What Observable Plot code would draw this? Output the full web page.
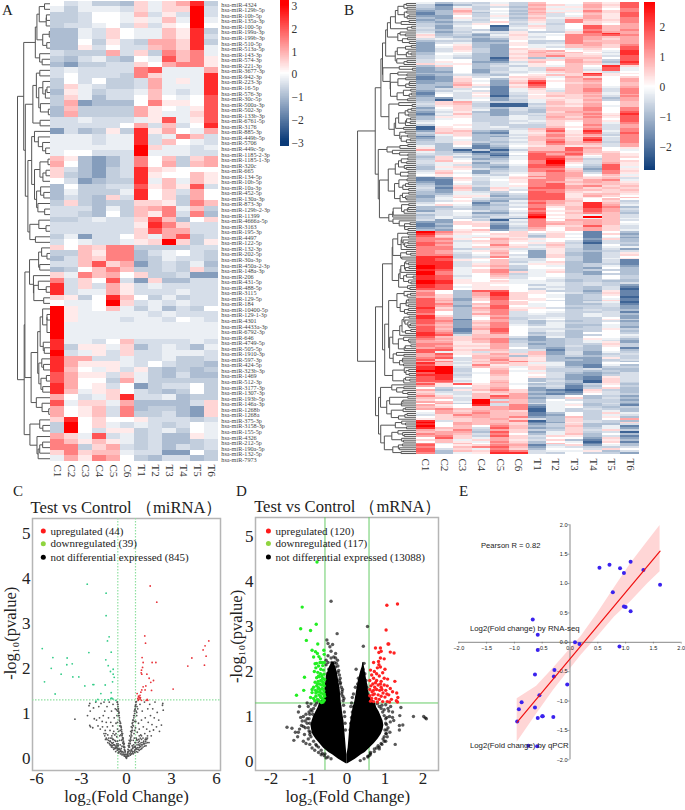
<!DOCTYPE html>
<html><head><meta charset="utf-8">
<style>html,body{margin:0;padding:0;background:#fff}#root{position:relative;width:685px;height:810px;overflow:hidden}
.tag{position:absolute;font:15px "Liberation Serif",serif;color:#222;line-height:15px}</style>
<script src="https://cdn.jsdelivr.net/npm/d3@7"></script>
<script src="https://cdn.jsdelivr.net/npm/@observablehq/plot@0.6"></script>
</head><body><div id="root"></div>
<script>
const cols=["C1","C2","C3","C4","C5","C6","T1","T2","T3","T4","T5","T6"];
const levelCodes="abcdefghijklmnop";
const levelsA=[-2.5,-2,-1.5,-1,-.75,-.5,-.25,0,.25,.5,.75,1,1.5,2,2.5,3];
const levelsB=[-2.2,-1.75,-1.3,-.9,-.65,-.45,-.2,0,.25,.45,.7,.95,1.35,1.8,2.3,2.8];
const miRNAs=["4324","129b-5p","10b-5p","135a-3p","100-5p","199a-3p","199b-3p","510-5p","513a-5p","143-3p","574-3p","221-3p","3677-3p","942-3p","223-3p","16-5p","576-3p","30c-5p","500a-3p","502-3p","133b-3p","6761-5p","3176","885-3p","449b-5p","5706","449c-5p","1185-2-3p","1185-1-3p","320c","665","134-5p","10b-5p","10a-3p","452-5p","130a-3p","873-3p","129b-2-3p","11399","4666a-5p","3163","195-3p","4497","122-5p","132-3p","202-5p","30a-3p","450a-2-3p","148a-3p","206","431-5p","488-5p","3115","129-5p","184","10400-5p","129-1-3p","4301","4433a-3p","6792-3p","646","4749-5p","505-5p","1910-3p","597-3p","424-5p","323b-3p","1469","512-3p","3177-3p","1307-3p","193b-5p","146a-3p","1268b","1268a","375-3p","3158-3p","155-5p","4326","212-5p","190a-5p","132-5p","7973"];
const heatA=`hfgeedjgjloe gegggfjgjjpf eefhhgkfifpf eefhhgigkgpg effghfjfihph ddgfjhggkioe ddgfjhggkiof ddheifelljoe ddifhffkljog feeelfjemkmg edfgedhgnkmi dceeffjhlmmi fgffffmngggl fhfffemjgggo ehfheeflgigo ejgfeeflgggo digeffgkgfgo ejgdffhkhghn elcdddhmiihn dkeeeelihgin dleeeeliggjn ffgfffgingin fffffhlfkfho cfdeieoilhgl gggfggofgmkf gggfggofkhgf ggggggpjggfg ghhfffpgggff kidcdfmhkejl lhdcdfmhlekl jfdcefojihhh jedcefoihhki hfcdeeogkgki dheeffnikinf dgeeegohjflh dfedjfohjelh ejedeejjiemk fffdgeklmgke ffedhekimfmd eefgffjnkdhj ffffffiomjff ffffffjnllff egcffhjglnef fhgffgijpjei jhkjmmeeeeff eekimmdfghfe dfkjmmdegffe ffknjlcefegd dehkmkeefeje jgmklhjeefcc mfjhnfcjddff ofjflifgffff ofgglifffgff jiehokhegeff hgghpjfgfgff pighkgegdfeh pigggggfgfff pigggfggfhgf pggggggggggg pggggggggggg pggggggggggg oggfhkffffgf oeiigjdfgfdg pfgifjffgggf ollffgffgeef oliiigfhfeed okhgifiedede nliifjgedfdd nlhhelgeeeee olhifhceffhe okgijhfedehe lhfgjoffgdee ngjjglddddfj lhikfmdeedcj lhikfmeefdcj johjhhifffef ephjgfgfefhg ephfiiefgehg ljgnfgefddig mkikigefddef mmejlfefdfef jmjkkgffcche glimlhedffde`.trim().split(/\s+/);
const heatB=`gdfegekhhkin ebdfieljgljn ecgefdkgilin dcjeheligkhm cdlfgdkgimjm bdkdheljgljn bdjegdkfhkin ccheiejfglin dcifgdkgjlim cdgehejfmkjm dcefjfifmjim edfihegehjhl ecghafjfhnkl fcfhbgifhnkl edfebfhfgmkm fcegfieejnll gdfdeighjmol jdecgjggmmnm ieddfifhmlkl fgfcdighmljl deeccheemkkl cfgddiefmlkl chidciggkljm cgjdchgfkkjn cfjecjihgjhn cfieciklhigo dgheciljkhfo dhgdcjkkjigo egfdcikmjjfn egedajdfkkhn fhhdbijjljen fihccfkhlkdo jgidegihkjfn djhdfeigkhoj cdhdegfkkgng cdhcegflkfng cchcffgjkifh ddgdeghgjoii cdfedhikjnih bcifgjjgljhj bcjhdikhkmhl ccjgcjniklhl cdkhckohjkhk ddlicinhklhk dcjfbjmhklgl dffhbgjgkmfm cegfbgifkmfm bgfibfijklgm bhfhbfhjjkgl chfiaeikjlfm dcfgcfiijkdl daghcegjilel ejlfeegkikhk fjkeaaekjlhk eijeaafjilgk chjfdfekkmhm dgjgcfdkkmhm cfidcedjllhn bgkecefkkmio cfiecgekkljn diieegfljmin dgheegfkklhn fhheefgjilin ghhfegfjhlgm ehifeeejhmfl aihfgeekilfl ajifffkmhmfm cjkdcgjniogm ekjcbgilinfn dgjddfjmjlem bfidcgkmikgm cfhdefkljnfm dfgdegkmjofm efiedfjnkmem edicegjmkkfl gdhbdhikijfl idebcgkknlhi ldaeaekknkhg gecacgmmmkjh fefcbhnlnjki efgdafnmmhki djedcgnnkgkj ejgcdgnolekh fkheehmpkfkj fgicfhmpifli egfddgnoheni dijdcfnngdng dgifdfmmjcni fjhcefmnkdmj gkgcfgkmlfmi hihfehkmlhkg fihggimmliji bcjfgjkmkjkf bbifhimmjlmg cbhegimlklki dbgeghmnjkkj ecjfgimnlmjk fbkdjgnnljkj ecjdifmmkkjk dcgfehnmjijj ddggdfnnikki cfiicenniljh cgjgeenniihk dghfddnnjhkh dfidcgmlkhje fhhbefnljokf gjgcdgmkjolg ddfdefmikomd deedehnhknlf cfhfdgmijnle ffgccfnhkmkd dfgeegoijgkf egfdffphjpkf egefdcnijgkg fcheagmhllkf ccjidfmkklkh bdjjcgmlklkg bchjbfmijnjf cdhhbelhkljf dcikcfkhkljg pmjihjhihbhd olihjjfjgbjc njggijdjhbhd mkgjjiejgbgc mmihljihhcjd mlfjkighfbfd nmgikhijeafe nlghmifkfchd mmgjkjgjfcgg mmefjffiecfc mlgikgciedef mlfhlhcidcfi mmegkfcjdcfj ooefmgcjecfh onfihffhecgi onihkffhecfb oofgkegjdcfb oofikgiideeb pofjlehgdegc poghkehhdchd ongjmdgideed pmgjmjgjdchd pmghlegheced onfhkfgheehe onghjfhgeehe onihhghfdefd poihjggfdedd poiiigggefef onhihhegefec ongiihgfedfb nnhiihegedfa lhdnnhieecib mhdlojihfdjb mjdlojhgdeib ljdknjhgdeha nkcjnjihdegb nlcjmhifddjb nkdhmjhhdfga nmdkmjghddfb nlcjnhgheefc ojdlniifdeec nkdkmjhhefed nhdjmfhgeefb mhdlmfgfegfd ojdilfffegfc oldhmefgeehc nlbhlegheeie nmcjlfdfdefc nlckmfdgeehd mkcjmgegddgd nlckmhggdegc nkblnhffeeie nlbjnhfgdehd omcjmhdfdhhe onfkkhefdehg nkjkkfcgdhhf mljlmdcdeigd lkjkmecdegfc llikmeddegic mmiilfcdeeje mljjlfddfdie lmiilhdcedhb nnjkkffbedhd ngifjfkcfcge lnijljkcfcef lmhkkdjdedfe mnfkljidccie njfjmjiddcef lmgkkmjeccfd okfjljggcchh nkgmijigcbgd opfkjgjfdbee opehkhjeefdd ppehlggeeded npfglhifdcdf ooehkhhfccef nofhjhifcbif noghjhdecbjf nnfhkhdfdajf lmghlhgedaje ninikgdeceid lihjkhefbdhe hefjlhcebejd ldikmjcbajed jffikjdcbifd kgfkjlcbchfe mjgknldehdec kkfkmlcejdfd jhfpfkdhfeec lkgplkdgheed hlepfkfggdfc lihofmcgideb kjhklmbghede lmkklmagefed hljlkjageegd glkmkkbdhejg fjmlkkbchegf hjklkmcdkeid ijjkljfdjehl ofjkkmadjfed phlkkjbcifej ohlkljcejddf phkhmkdekdgb okkfnkcdjegc ljmeljeejfje klldnjcgjefa mlkfmhdgkdhd lmjenjfjidfb hnjgljehhcjc jkgjlifjdbid hkigmjdhgajb mgkhlkdkhbhd nhijmlbfjcgd mhkmnkcgfeef nfjgmjdhhfjh ndkjnmfggidf mdgioofeheec`.trim().split(/\s+/);
const ticksA=[-3,-2,-1,0,1,2,3];
const ticksB=[-2,-1,0,1,2];
const volcanoC={red:[1.58,3.83,2.02,3.47,1.22,2.72,1.27,2.56,5.49,2.61,5.24,2.5,5.11,2.41,5.31,2.27,5.2,2.07,4.36,2.23,4.09,2.05,1.04,2.24,1.11,2.13,1.71,2.13,1.96,2.13,1.07,2.02,1,1.96,.98,1.9,1.02,1.87,1.36,1.87,1.51,1.78,1.8,1.73,1.62,1.69,3.11,1.54,1.29,1.61,1.11,1.59,1.02,1.52,1.24,1.52,1.67,1.51,.71,1.44,.96,1.47,.84,1.36,.87,1.35,.93,1.35,.91,1.32,.78,1.29,.82,1.31,1.31,1.29,1.42,1.29,1,1.29,.8,1.38,.9,1.4,.75,1.33,1.38,1.31],
green:[-2.62,3.87,-1.36,3.67,-1.36,3.17,-1.16,2.7,-1.27,2.61,-1.02,2.36,-2.51,2.35,-5.62,2.44,-4.91,2.24,-3.96,2.23,-3.98,2.08,-3.62,2.1,-5.02,2,-4.36,1.87,-3.58,1.81,-3.18,1.81,-5.47,1.7,-4.76,1.43,-2.78,1.61,-2.24,1.64,-2.18,1.64,-1.38,2.19,-1.22,2.06,-1.07,1.93,-.89,1.98,-.89,1.87,-.82,1.8,-.93,1.7,-1.42,1.63,-1.02,1.46,-1.71,1.44,-1.91,1.31,-2.04,1.27,-1.44,1.3,-1.04,1.33,-.91,1.32,-.71,1.29,-.98,1.34,-1.2,1.3],
gray:[-3.44,.87,-2.5,1.17,-2.45,1.22,-2.42,1.05,-2.6,.95,-2.4,.7,-2.45,.73,-2.25,.68,-2.2,1.12,-2.15,.88,-2.05,1.25,-2.0,.85,-1.9,.72,-1.85,1.15,-1.8,.9,-1.75,.65,-1.7,1.22,-1.62,.82,-1.6,.7,-1.55,.95,-1.5,1.25,-1.45,1.05,-1.42,.62,-1.38,.55,-1.35,.8,-1.3,1.15,-1.28,.7,-1.25,.52,-1.2,.9,-1.18,.45,-1.15,1.25,-1.1,.62,-1.08,.38,-1.05,.8,-1,1.05,-.98,.5,-.95,.33,-.92,.72,-.9,1.2,-.88,.42,-.85,.6,-.82,.9,-.8,.3,-.78,.52,-.75,1.1,-.72,.38,-.7,.78,-.68,.25,-.65,.48,-.62,1.25,-.6,.65,-.58,1.2,-.56,.32,-.54,1.1,-.52,.95,-.5,.22,-.5,1.02,-.48,.85,-.46,.4,-.45,.72,-.42,.3,-.42,.62,-.4,.78,-.38,.18,-.38,.52,-.35,.68,-.33,.4,-.32,.6,-.3,.27,-.3,.5,-.28,.42,-.26,.55,-.25,.15,-.25,.34,-.22,.45,-.2,.25,-.2,.38,-.18,.12,-.18,.3,-.15,.33,-.14,.2,-.12,.08,-.12,.25,-.1,.05,-.08,.16,-.06,.04,-.04,.09,-.02,.02,0,0,.02,.03,.04,.08,.06,.05,.08,.13,.1,.07,.1,.2,.12,.28,.14,.15,.15,.33,.18,.1,.18,.4,.2,.25,.22,.17,.22,.5,.25,.33,.26,.12,.28,.6,.3,.4,.32,.2,.32,.7,.35,.5,.38,.78,.38,.28,.4,.62,.42,.15,.42,.85,.45,.4,.46,.72,.48,.95,.5,.25,.5,.55,.52,1.05,.55,.82,.56,.35,.58,1.15,.6,.68,.6,.2,.62,1.25,.65,.45,.68,.95,.7,.3,.72,.58,.75,1.1,.78,.2,.8,.78,.82,.42,.85,.65,.88,.28,.9,1.2,.95,.52,.98,.35,1,.85,1.02,.22,1.05,1.05,1.1,.45,1.12,.7,1.15,.32,1.2,1.25,1.22,.55,1.25,.9,1.28,.38,1.3,.28,1.35,.65,1.4,.45,1.42,1.1,1.45,.8,1.5,.35,1.55,.6,1.55,1.2,1.6,.95,1.65,.5,1.7,.75,1.75,1.1,1.8,.63,1.85,.9,1.9,1.25,2,.7,2.05,1.02,2.15,.85,2.2,.6,2.33,.74,2.4,1.18,2.45,1.07,2.42,1.22,-.22,.08,-.3,.12,-.4,.15,-.5,.13,-.62,.18,-.72,.15,-.85,.2,-1,.25,-1.1,.3,-1.25,.35,-1.4,.42,.25,.07,.35,.1,.45,.1,.55,.13,.65,.15,.75,.14,.85,.18,.95,.2,1.1,.25,1.2,.27,1.3,.34,1.4,.35,-.15,.05,.15,.05,-.35,.22,.3,.16,-.55,.28,.42,.22,-.6,.38,.58,.27,-.7,.55,.68,.42,-.45,.5,.52,.45,-.9,.55,.85,.5,-1.05,.45,1,.42,-.52,.6,.55,.62,-.6,.8,.62,.82,-.64,.95,.68,1.02,-.66,1.08,.7,1.15,-.6,1.05,.64,1.05,-.03,.03,.03,.05,-.06,.09,.07,.1,-.09,.14,.1,.15,-.12,.18,.13,.19,-.14,.24,.16,.25,-.17,.26,.18,.28,-.19,.32,.21,.33,-.22,.36,.24,.38,-.24,.42,.27,.43,-.26,.46,.29,.47,-.29,.52,.31,.54,-.31,.56,.34,.58,-.33,.64,.36,.62,-.36,.7,.38,.68,-.38,.72,.41,.74,-.41,.78,.43,.8,-.44,.82,.46,.85,-.47,.9,.49,.9,-.49,.95,.52,.95,-.51,1,.54,1,-.53,1.05,.56,1.08,-.55,1.1,.58,1.1,-.57,1.15,.6,1.18,-.59,1.2,.63,1.2,-.61,1.25,.66,1.26,-.3,.08,-.4,.1,-.5,.16,-.55,.2,-.6,.22,-.65,.24,-.7,.28,-.75,.25,-.8,.22,-.85,.3,-.9,.24,-.95,.28,-1,.35,-1.05,.3,-1.1,.38,-1.15,.33,-1.2,.4,-1.3,.42,-1.35,.45,-1.45,.5,-1.5,.55,-.35,.15,-.45,.2,-.55,.12,-.6,.28,-.65,.32,-.72,.22,-.78,.4,-.82,.3,-.88,.35,-.92,.42,-.97,.45,-1.02,.28,.3,.09,.4,.12,.5,.15,.55,.18,.6,.24,.65,.22,.7,.2,.75,.24,.8,.3,.85,.24,.9,.32,.95,.26,1,.3,1.05,.3,1.1,.35,1.15,.38,1.2,.33,1.25,.42,1.3,.45,1.35,.42,1.4,.5,.35,.18,.42,.25,.48,.3,.55,.25,.62,.35,.7,.4,.78,.35,.85,.38,.92,.45,1,.5]};
const volcanoD={red:[1.05,3.47,1.33,3.5,1.03,2.92,1.08,2.61,1.1,2.61,.75,2.52,.88,2.52,.9,2.45,.84,2.42,1.14,2.43,1.24,2.41,.88,2.3,.83,2.22,.7,2.2,.98,2.28,.84,2.15,.88,2.1,.8,2.08,.62,2.03,.72,2,.78,1.95,1,2.05,.94,1.97,.65,1.92,.85,1.9,.7,1.85,.98,1.85,1.07,1.83,.6,1.8,.78,1.8,.9,1.78,1.26,1.78,.68,1.72,.82,1.7,.98,1.7,1.06,1.68,.63,1.68,.73,1.65,.9,1.65,1.14,1.62,.6,1.6,.78,1.6,.86,1.58,1.02,1.58,1.2,1.55,.66,1.55,.95,1.52,1.31,1.52,.72,1.5,.82,1.48,1.1,1.48,.6,1.46,.9,1.45,1,1.43,1.34,1.42,.65,1.4,.76,1.4,.85,1.38,1.17,1.38,1.3,1.35,.62,1.34,.7,1.33,.94,1.33,1.06,1.33,.8,1.32,1.12,1.32,1.33,1.32,.75,1.75,.92,1.6,.68,1.48,1.05,1.5,.88,1.72,.7,1.58],
green:[-.79,4.43,-1.18,3.43,-1.22,2.95,-.81,3.05,-.96,2.91,-1.07,2.69,-.77,2.61,-.92,2.47,-.83,2.44,-.61,2.47,-.78,2.4,-.74,2.33,-.88,2.32,-.6,2.38,-.66,2.2,-.71,2.2,-.8,2.18,-.84,2.17,-.6,2.2,-.64,2.13,-.75,2.12,-.82,2.08,-.69,2.05,-.62,2.03,-.86,2,-.77,1.98,-.7,1.95,-.61,1.94,-.66,1.9,-.73,1.88,-.8,1.86,-.64,1.85,-.59,1.82,-.69,1.8,-.76,1.78,-.84,1.76,-.62,1.75,-.72,1.72,-.67,1.7,-.8,1.68,-.6,1.68,-.88,1.65,-.75,1.64,-.65,1.62,-.7,1.6,-.83,1.58,-.61,1.57,-.78,1.55,-.92,1.53,-.68,1.52,-.63,1.5,-.74,1.48,-.82,1.45,-.59,1.45,-.69,1.42,-.65,1.4,-.78,1.38,-.88,1.4,-.6,1.36,-.72,1.34,-.63,1.32,-.67,1.31,-1.12,1.87,-1.14,1.58,-1.33,1.47,-.96,1.42,-.92,1.6,-.85,1.35,-.75,1.9,-.63,1.7,-.72,1.55,-.66,1.78,-.78,1.72,-.7,1.45,-.6,1.5,-.64,1.38,-.76,1.62,-.82,1.52,-.7,2.28],
black:[-.42,3.56,.54,3,-.26,2.84,-.53,2.7,.43,2.56,-.5,2.62,-.45,2.55,-.38,2.6,-.3,2.3,-.33,2.2,-.25,2.25,-.42,2.45,.45,2.18,.42,2.05,.24,2.05,.47,1.95,.4,1.88,.34,1.78,.5,1.8,.28,1.72,.46,1.7,.52,1.65,.22,1.65,-.2,1.8,-.18,1.72,-.12,1.6,-.14,1.5,-.08,1.4,.14,1.42,.17,1.5,.12,1.3,.1,1.22,-.5,2.35,-.55,2.25,-.4,2.2,-.36,2.05,-.3,2.1,-.24,1.98,-.48,2.05,1.75,1,2.02,1,2.06,.97,2.09,.95,1.39,1.02,1.23,.91,1.47,.81,1.38,.8,1.38,.7,1.27,.38,1.42,1.2,1.15,1.22,1.2,1.1,1.1,1.12,1.05,.98,1.14,.88,1.02,.85,1.08,.75,1,.7,1.13,.65,1.04,.62,.95,.5,.9,.4,.82,.35,.72,.28,.62,.2,-1.58,.76,-1.45,.74,-1.4,.47,-1.36,.65,-1.3,.55,-1.25,.72,-1.2,.8,-1.18,.9,-1.12,.6,-1.1,.75,-1.05,.95,-1.02,.5,-1,.68,-.98,.85,-1,1.1,-1.08,1.05,-1.15,1,-1.22,.98,-1.28,.65,-1.15,.45,-1.08,.4,-.98,.38,-.92,.3,-.85,.25,-.8,.35,-.75,.2,-.68,.15,-.9,1.05,-.95,1.15,-1.02,1.22,-1.25,1.22,-1.28,1.1,-.98,.6,-.65,.18,-.6,.13,-.55,.08,.55,.1,.45,.06,.35,.02,.6,.14,.78,.3,.85,.28,.98,.55,1.02,.45,1.06,.55,1.12,1,1.2,.98,-.95,1.28,-1.05,1.3,.98,1.15,.92,1.25,1.02,1.26,1.08,1.18,-.55,2.15,-.5,2.2,-.42,2.3,-.35,2.32,-.3,2.4,-.52,1.95,-.45,2,-.4,2.1,-.28,2.18,-.24,2.12,-.22,2.02,-.2,1.92,-.18,1.85,-.17,1.75,-.15,1.65,-.13,1.55,-.11,1.45,-.1,1.35,-.09,1.25,-.07,1.1,-.06,1,-.05,.85,-.04,.7,-1.02,.75,-1.05,.85,-1,.95,-.97,.65,-.95,.55,-.88,.45,-.82,.38,-.75,.32,-.68,.25,-.58,.17,-.5,.1,-.42,.06,-.98,1.05,-.92,1.12,-.88,1.18,-.84,1.25,-.8,1.3,-.76,1.36,-1.1,.9,-1.15,.78,-.7,1.3,.3,1.5,.26,1.42,.22,1.3,.18,1.22,.14,1.1,.12,.98,.1,.85,.08,.7,.32,1.62,.36,1.72,.38,1.8,.3,1.85,.52,1.55,.55,1.5,.58,1.42,.55,1.32,.8,1.28,.85,1.22,.9,1.18,.94,1.1,.98,1.02,1.02,.95,1.04,.82,1.05,.7,1.02,.62,.98,.45,.92,.38,.85,.32,.72,.22,.62,.17,.55,.12]};
const lobeY=[-.05,0,.05,.1,.15,.2,.3,.4,.5,.6,.7,.8,.9,1,1.1,1.2,1.3,1.4,1.5,1.6,1.7,1.8,1.9,2,2.1,2.2];
const lobeLeftOuter=[-.02,-.12,-.22,-.3,-.38,-.48,-.62,-.72,-.82,-.9,-.93,-.95,-.92,-.88,-.82,-.76,-.72,-.6,-.58,-.58,-.57,-.55,-.54,-.5,-.46,-.4];
const lobeLeftInner=[0,0,0,0,0,-.01,-.02,-.03,-.04,-.05,-.06,-.07,-.08,-.1,-.12,-.13,-.15,-.16,-.17,-.18,-.2,-.22,-.24,-.26,-.3,-.34];
const lobeRightInner=[0,0,0,0,0,.01,.03,.04,.05,.06,.07,.08,.1,.12,.14,.16,.2,.22,.24,.26,.28,.3,.33,.36,.4,.42];
const lobeRightOuter=[.02,.12,.22,.3,.38,.48,.6,.72,.82,.9,.95,.97,.95,.9,.85,.78,.75,.62,.58,.56,.55,.52,.5,.48,.46,.44];
const qpcrX=[.53,.71,.9,.97,1.09,1.32,1.62,.77,.97,1,1.09,-.67,-.58,.09,.17,.89,-.58,-.63,-.28,-.29,-.05,-.55,-.87,-.92,-.63,-.95,-.58,-.5,-.49,-.3,-.75,-.59];
const rnaY=[1.27,1.32,1.26,1.18,1.37,1.23,.98,.85,.61,.6,.53,.39,.13,0,-.03,-.07,-.13,-.55,-.47,-.58,-.72,-.9,-1.02,-1.14,-1.11,-1.35,-1.29,-1.26,-1.26,-1.27,-1.76,-1.77];
const fitX=[-.95,1.62];
const fitY=[-1.36,1.55];
const bandX=[-.95,-.6,-.3,0,.2,.5,.8,1.1,1.4,1.62];
const bandLo=[-1.7,-1.22,-.82,-.46,-.22,.1,.43,.7,1,1.2];
const bandHi=[-.96,-.75,-.44,-.12,.1,.5,.93,1.35,1.72,1.99];
const legC=["upregulated (44)","downregulated (39)","not differential expressed (845)"];
const legD=["upregulated (120)","downregulated (117)","not differential expressed (13088)"];
const legColors=["#ff1a1a","#8fd43f","#000"];

const serif='"Liberation Serif",serif', sans='"Liberation Sans",sans-serif';
const NAVY="#0a3a78";
const root=document.getElementById("root");
function mount(p,l,t){p.style.position="absolute";p.style.left=l+"px";p.style.top=t+"px";p.style.maxWidth="none";root.appendChild(p);}
function tag(s,l,t){const d=document.createElement("div");d.className="tag";d.textContent=s;d.style.left=l+"px";d.style.top=t+"px";root.appendChild(d);}
const decode=(rows,lv)=>rows.map(r=>Array.from(r.slice(0,12),c=>lv[levelCodes.indexOf(c)]));
const pairs=a=>d3.range(0,a.length-1,2).map(i=>({x:a[i],y:a[i+1]}));
const cellsOf=m=>m.flatMap((r,i)=>r.map((v,j)=>({r:i,c:j,v})));
function dendro(m,span){
  const dist=(a,b)=>Math.sqrt(d3.sum(a,(v,i)=>((v??0)-(b[i]??0))**2));
  let nodes=m.map((r,i)=>({items:[i],y:i+.5,h:0}));
  const link=(a,b)=>{let d=0;for(const i of a.items)for(const j of b.items)d=Math.max(d,dist(m[i],m[j]));return d;};
  let gaps=d3.range(nodes.length-1).map(i=>link(nodes[i],nodes[i+1]));
  const raw=[];
  while(nodes.length>1){
    const k=d3.minIndex(gaps),a=nodes[k],b=nodes[k+1];
    const h=Math.max(gaps[k],a.h,b.h);
    raw.push({ya:a.y,yb:b.y,ha:a.h,hb:b.h,h});
    const n={items:a.items.concat(b.items),y:(a.y+b.y)/2,h};
    nodes.splice(k,2,n);gaps.splice(k,1);
    if(k>0)gaps[k-1]=link(nodes[k-1],n);
    if(k<nodes.length-1)gaps[k]=link(n,nodes[k+1]);
  }
  const top=nodes[0].h,f=v=>-v/top*span,segs=[];
  for(const s of raw){
    segs.push({x1:f(s.h),x2:f(s.h),y1:s.ya,y2:s.yb},{x1:f(s.ha),x2:f(s.h),y1:s.ya,y2:s.ya},{x1:f(s.hb),x2:f(s.h),y1:s.yb,y2:s.yb});
  }
  return segs;
}
function heat(rows,lv,o){
  const m=decode(rows,lv),n=m.length;
  return Plot.plot({width:o.w,height:o.h,marginLeft:o.ml,marginRight:o.mr,marginTop:o.mt,marginBottom:o.mb,
    style:{fontFamily:serif,background:"transparent"},
    x:{type:"linear",domain:[0,12],axis:null},y:{type:"linear",domain:[n,0],axis:null},
    color:{type:"linear",domain:o.cd,range:[NAVY,"#ffffff","#ff0000"],clamp:true},
    marks:[
      Plot.link(dendro(m,o.span),{x1:"x1",x2:"x2",y1:"y1",y2:"y2",stroke:o.ds,strokeWidth:o.dw}),
      Plot.rect(cellsOf(m),{x1:"c",x2:d=>d.c+1,y1:"r",y2:d=>d.r+1,fill:"v",shapeRendering:"crispEdges"}),
      Plot.text(cols,{x:(d,i)=>i+.5,y:()=>n,dy:o.cdy,rotate:90,text:d=>d,textAnchor:"start",fontSize:o.cfs,fill:"#333"}),
      ...(o.labels?[Plot.text(o.labels,{x:()=>12,dx:2.8,y:(d,i)=>i+.5,dy:1,text:d=>"hsa-miR-"+d,textAnchor:"start",fontSize:6.2,fill:"#444"})]:[])
    ]});
}
function colorbar(o){
  const vals=d3.range(o.lo,o.hi,.03);
  return Plot.plot({width:o.barW+26,height:o.h,marginLeft:0,marginRight:26,marginTop:o.mt,marginBottom:o.mb,
    style:{fontFamily:serif,background:"transparent",color:"#333"},
    x:{type:"linear",domain:[0,1],axis:null},y:{type:"linear",domain:[o.lo,o.hi]},
    color:{type:"linear",domain:o.cd,range:[NAVY,"#ffffff","#ff0000"],clamp:true},
    marks:[
      Plot.rect(vals,{x1:()=>0,x2:()=>1,y1:d=>d,y2:d=>d+.035,fill:d=>d,shapeRendering:"crispEdges"}),
      Plot.axisY({anchor:"right",ticks:o.ticks,tickSize:0,tickPadding:o.pad,fontSize:o.fs,label:null,dy:o.dy,tickFormat:d=>d<0?"−"+(-d):String(d)})
    ]});
}
function volcano(v,o){
  const tf=d=>String(d);
  const marks=[
    Plot.frame({stroke:"#b5b5b5",strokeWidth:1.5}),
    Plot.axisX({ticks:o.xt,tickSize:0,tickPadding:o.xpad,fontSize:17,label:null,tickFormat:tf,fill:"#222"}),
    Plot.axisY({ticks:[0,1,2,3,4,5],tickSize:0,tickPadding:2,fontSize:17,label:null,tickFormat:tf,fill:"#222"}),
    Plot.ruleX(o.vl,{stroke:o.lc,strokeWidth:o.lw,strokeDasharray:o.dash}),
    Plot.ruleY([1.3],{stroke:o.lc,strokeWidth:o.lw,strokeDasharray:o.dash}),
    ...(o.under||[]),
    Plot.dot(pairs(v.black||v.gray),{x:"x",y:"y",r:o.r,fill:o.base,fillOpacity:o.op,stroke:"none"}),
    Plot.dot(pairs(v.red),{x:"x",y:"y",r:o.r,fill:o.redC,stroke:"none"}),
    Plot.dot(pairs(v.green),{x:"x",y:"y",r:o.r,fill:o.greenC,stroke:"none"}),
    Plot.dot(o.leg,{x:()=>o.lx,y:(d,i)=>o.ly[i],r:2.5,fill:(d,i)=>legColors[i],stroke:"none"}),
    Plot.text(o.leg,{x:()=>o.tx,y:(d,i)=>o.ly[i],text:d=>d,textAnchor:"start",fontSize:11,fill:"#222"}),
    Plot.text([o.title],{x:()=>o.titleX,y:()=>o.titleY,text:d=>d,fontSize:16.6,fill:"#222"}),
    Plot.text(["log₂(Fold Change)"],{x:()=>o.titleX,y:()=>o.xLabY,text:d=>d,fontSize:16.8,fill:"#222"}),
    Plot.text(["-log₁₀(pvalue)"],{x:()=>o.yLabX,y:()=>2.78,rotate:-90,text:d=>d,fontSize:16.5,fill:"#222"})
  ];
  return Plot.plot({width:o.w,height:330,marginLeft:o.ml,marginRight:o.mr,marginTop:o.mt,marginBottom:o.mb,
    style:{fontFamily:serif,background:"transparent"},
    x:{type:"linear",domain:o.xd},y:{type:"linear",domain:o.yd},marks});
}

mount(heat(heatA,levelsA,{w:280,h:480,ml:50,mr:62,mt:.5,mb:19,cd:[-3,0,3],span:33/14,ds:"#555",dw:1,cdy:3,cfs:11,labels:miRNAs}),0,0);
mount(colorbar({barW:9,h:150,mt:.5,mb:4,lo:-3.2,hi:3.2,cd:[-3,0,3],ticks:ticksA,pad:2,fs:11.5,dy:1}),280,0);
mount(heat(heatB,levelsB,{w:300,h:480,ml:76,mr:1,mt:2,mb:26,cd:[-2.8,0,2.8],span:59/18.6,ds:"#555",dw:1,cdy:4,cfs:11}),340,0);
mount(colorbar({barW:11,h:175,mt:2,mb:5,lo:-2.77,hi:2.83,cd:[-2.8,0,2.8],ticks:ticksB,pad:4,fs:11.5,dy:0}),644,0);

mount(volcano(volcanoC,{w:225,ml:32,mr:5,mt:38,mb:40,xd:[-6.27,6.27],yd:[-.27,5.33],xt:[-6,-3,0,3,6],xpad:1,vl:[-.58,.6],lc:"#8fe0a0",lw:1.2,dash:"1.5,1.5",r:.9,base:"#555",op:1,redC:"#e8333a",greenC:"#33cc88",leg:legC,lx:-5.55,tx:-5.07,ly:[5.05,4.77,4.47],title:"Test vs Control （miRNA）",titleX:0,titleY:5.58,xLabY:-.86,yLabX:-7.75}),0,480);

const lobes=lobeY.map((y,i)=>({y,a:lobeLeftOuter[i],b:lobeLeftInner[i],c:lobeRightInner[i],d:lobeRightOuter[i]}));
mount(volcano(volcanoD,{w:220,ml:30,mr:7,mt:37,mb:40,xd:[-2.41,2.41],yd:[-.2,5.42],xt:[-2,-1,0,1,2],xpad:1,vl:[-.58,.58],lc:"#66cc66",lw:1,r:1.7,base:"#000",op:.65,redC:"#ff2222",greenC:"#22ee22",leg:legD,lx:-2.07,tx:-1.88,ly:[5.12,4.84,4.54],title:"Test vs Control （mRNA）",titleX:.02,titleY:5.66,xLabY:-.79,yLabX:-2.91,
  under:[Plot.areaX(lobes,{x1:"a",x2:"b",y:"y",fill:"#000"}),Plot.areaX(lobes,{x1:"c",x2:"d",y:"y",fill:"#000"})]}),225,480);

const ev=d3.range(-2,2.01,.5),evf=d3.format(".1f");
const ax=d3.range(qpcrX.length).map(i=>({x:qpcrX[i],y:rnaY[i]}));
mount(Plot.plot({width:240,height:300,marginLeft:13.3,marginRight:4.3,marginTop:44.3,marginBottom:20.7,
  style:{fontFamily:sans,background:"transparent"},
  x:{type:"linear",domain:[-2,2],axis:null},y:{type:"linear",domain:[-2,2],axis:null},
  marks:[
    Plot.areaY(bandX.map((x,i)=>({x,a:bandLo[i],b:bandHi[i]})),{x:"x",y1:"a",y2:"b",fill:"#ffd6d6"}),
    Plot.ruleY([0],{x1:()=>-2,x2:()=>2,stroke:"#888",strokeWidth:1}),
    Plot.ruleX([0],{y1:()=>-2,y2:()=>2,stroke:"#888",strokeWidth:1}),
    Plot.ruleX(ev,{x:d=>d,y1:()=>0,y2:()=>-.03,stroke:"#666",strokeWidth:.6}),
    Plot.ruleY(ev,{y:d=>d,x1:()=>-.04,x2:()=>0,stroke:"#666",strokeWidth:.6}),
    Plot.text(ev,{x:d=>d,y:()=>0,dy:6,text:d=>evf(d),fontSize:5.5,fill:"#222"}),
    Plot.text(ev,{x:()=>0,y:d=>d,dx:-2.5,text:d=>evf(d),textAnchor:"end",fontSize:5.5,fill:"#222"}),
    Plot.dot(ax,{x:"x",y:"y",r:2,fill:"#3a22ee",stroke:"none"}),
    Plot.line(fitX.map((x,i)=>({x,y:fitY[i]})),{x:"x",y:"y",stroke:"#f01010",strokeWidth:1.2}),
    Plot.text(["Pearson R = 0.82"],{x:()=>-1.6,y:()=>1.65,text:d=>d,textAnchor:"start",fontSize:7.6,fill:"#222"}),
    Plot.text(["Log2(Fold change) by RNA-seq"],{x:()=>-1.8,y:()=>.24,text:d=>d,textAnchor:"start",fontSize:7.8,fill:"#222"}),
    Plot.text(["Log2(Fold change) by qPCR"],{x:()=>-1.8,y:()=>-1.76,text:d=>d,textAnchor:"start",fontSize:7.8,fill:"#222"})
  ]}),445,480);

tag("A",2,3);tag("B",344,3);tag("C",13,484);tag("D",236,484);tag("E",459,484);
</script></body></html>
